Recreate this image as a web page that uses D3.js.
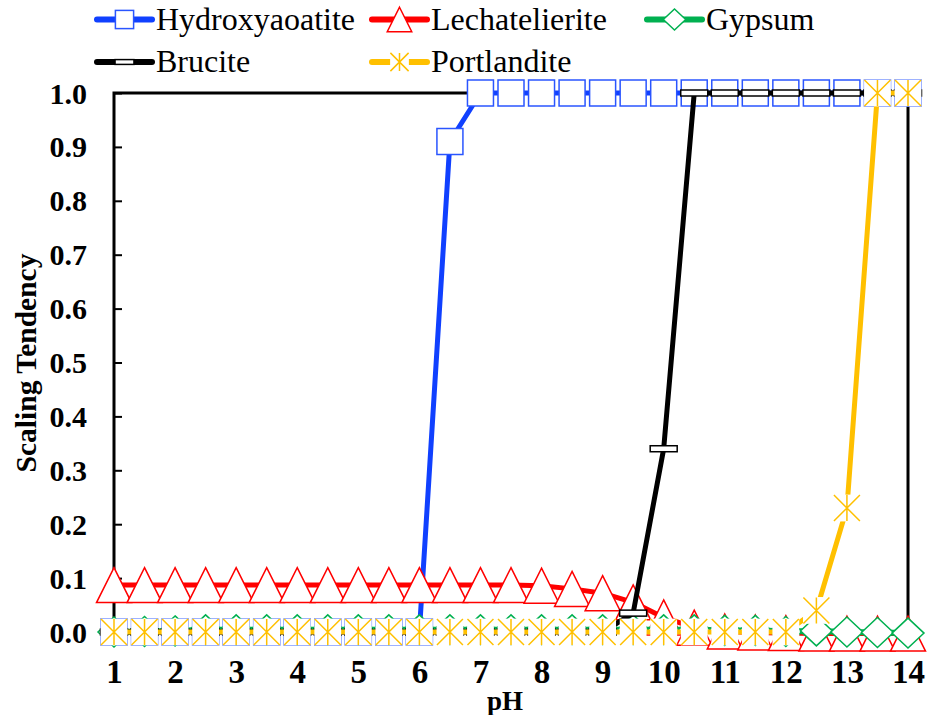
<!DOCTYPE html>
<html>
<head>
<meta charset="utf-8">
<script src="https://cdn.jsdelivr.net/npm/d3@7"></script>
<style>
  html, body { margin: 0; padding: 0; background: #fff; }
  svg { display: block; }
</style>
</head>
<body>
<svg id="chart" width="928" height="715"></svg>
<script>
// pH grid shared by every series
const pH = [1, 1.5, 2, 2.5, 3, 3.5, 4, 4.5, 5, 5.5, 6, 6.5, 7, 7.5, 8, 8.5, 9, 9.5, 10, 10.5, 11, 11.5, 12, 12.5, 13, 13.5, 14];

// scaling tendency per mineral
const hydroxyaoatite = [0, 0, 0, 0, 0, 0, 0, 0, 0, 0, 0, 0.91, 1, 1, 1, 1, 1, 1, 1, 1, 1, 1, 1, 1, 1, 1, 1];
const lechatelierite = [0.087, 0.087, 0.087, 0.087, 0.087, 0.087, 0.087, 0.087, 0.087, 0.087, 0.087, 0.087, 0.087, 0.087, 0.086, 0.08, 0.072, 0.055, 0.027, 0.008, 0.001, -0.001, -0.002, -0.003, -0.003, -0.003, -0.003];
const gypsum = [0, 0.001, 0.002, 0.004, 0.004, 0.004, 0.004, 0.004, 0.004, 0.004, 0.004, 0.004, 0.004, 0.004, 0.004, 0.004, 0.004, 0.004, 0.004, 0.004, 0.003, 0.003, 0.001, 0.002, 0, -0.001, -0.002];
const brucite = [0, 0, 0, 0, 0, 0, 0, 0, 0, 0, 0, 0, 0, 0, 0, 0, 0, 0.035, 0.34, 1, 1, 1, 1, 1, 1, 1, 1];
const portlandite = [0, 0, 0, 0, 0, 0, 0, 0, 0, 0, 0, 0, 0, 0, 0, 0, 0, 0, 0, 0, 0, 0, 0, 0.04, 0.23, 1, 1];

// axis ticks
const xTicks = [1, 2, 3, 4, 5, 6, 7, 8, 9, 10, 11, 12, 13, 14];
const yTicks = [0, 0.1, 0.2, 0.3, 0.4, 0.5, 0.6, 0.7, 0.8, 0.9, 1.0];
const yTickLabels = ["0.0", "0.1", "0.2", "0.3", "0.4", "0.5", "0.6", "0.7", "0.8", "0.9", "1.0"];

const seriesNames = ["Hydroxyaoatite", "Lechatelierite", "Gypsum", "Brucite", "Portlandite"];
const seriesValues = [hydroxyaoatite, lechatelierite, gypsum, brucite, portlandite];
const seriesColors = ["#1040ff", "#ff0000", "#00b050", "#000000", "#ffc000"];
const seriesMarkers = ["square", "triangle", "diamond", "bar", "star"];

const FONT = '"Liberation Serif"';

const svg = d3.select("#chart");

const x = d3.scaleLinear().domain([1, 14]).range([114, 908]);
const y = d3.scaleLinear().domain([0, 1]).range([632, 93]);

// plot frame
svg.append("rect")
  .attr("x", x(1)).attr("y", y(1))
  .attr("width", x(14) - x(1)).attr("height", y(0) - y(1))
  .attr("fill", "none").attr("stroke", "#000").attr("stroke-width", 3);

// y axis: inward ticks, bold labels
const yAxis = d3.axisLeft(y)
  .tickValues(yTicks)
  .tickFormat((d, i) => yTickLabels[i])
  .tickSizeInner(-8).tickSizeOuter(0).tickPadding(27);
const gy = svg.append("g").attr("transform", `translate(${x(1)},0)`).call(yAxis);
gy.select(".domain").remove();
gy.selectAll(".tick line").attr("stroke", "#000").attr("stroke-width", 2);
gy.selectAll(".tick text")
  .attr("font-family", FONT)
  .attr("font-size", 30).attr("font-weight", "bold").attr("fill", "#000")
  .attr("dy", null).attr("y", 10);

// x axis: labels only
const xAxis = d3.axisBottom(x).tickValues(xTicks).tickFormat(d3.format("d")).tickSize(0);
const gx = svg.append("g").attr("transform", `translate(0,${y(0)})`).call(xAxis);
gx.select(".domain").remove();
gx.selectAll(".tick line").remove();
gx.selectAll(".tick text")
  .attr("font-family", FONT)
  .attr("font-size", 33).attr("font-weight", "bold").attr("fill", "#000")
  .attr("dy", null).attr("y", 51);

// axis titles
svg.append("text")
  .attr("transform", "translate(36,363) rotate(-90)")
  .attr("text-anchor", "middle")
  .attr("font-family", FONT)
  .attr("font-size", 29.5).attr("font-weight", "bold")
  .text("Scaling Tendency");

svg.append("text")
  .attr("x", 505).attr("y", 710)
  .attr("text-anchor", "middle")
  .attr("font-family", FONT)
  .attr("font-size", 27).attr("font-weight", "bold")
  .text("pH");

// marker drawing, s = scale factor
function drawMarker(g, type, color, s) {
  if (type === "square") {
    g.append("rect").attr("x", -13 * s).attr("y", -13 * s).attr("width", 26 * s).attr("height", 26 * s)
      .attr("fill", "#fff").attr("stroke", "#2a55ff").attr("stroke-width", 1.5);
  } else if (type === "triangle") {
    const h = 17.5 * s;
    g.append("path").attr("d", `M0,${-h}L${h},${h}L${-h},${h}Z`)
      .attr("fill", "#fff").attr("stroke", color).attr("stroke-width", 1.5);
  } else if (type === "diamond") {
    const w = 16 * s, h = 15 * s;
    g.append("path").attr("d", `M0,${-h}L${w},0L0,${h}L${-w},0Z`)
      .attr("fill", "#fff").attr("stroke", color).attr("stroke-width", 1.5);
  } else if (type === "bar") {
    g.append("rect").attr("x", -13.5 * s).attr("y", -3 * Math.max(s, 0.8)).attr("width", 27 * s).attr("height", 6 * Math.max(s, 0.8))
      .attr("fill", "#fff").attr("stroke", color).attr("stroke-width", 1.5);
  } else if (type === "star") {
    const r = 13 * s, rb = 13.4 * s;
    g.append("rect").attr("x", -rb).attr("y", -rb).attr("width", 2 * rb).attr("height", 2 * rb).attr("fill", "#fff");
    g.append("path").attr("d", `M${-r},${-r}L${r},${r}M${-r},${r}L${r},${-r}M0,${-r}L0,${r}`)
      .attr("fill", "none").attr("stroke", color).attr("stroke-width", 1.5);
  }
}

const line = d3.line().x(d => x(d[0])).y(d => y(d[1]));

// each series: line first, then its markers
seriesValues.forEach((vals, si) => {
  const pts = pH.map((p, i) => [p, vals[i]]);
  const g = svg.append("g").attr("class", "series");
  g.append("path").attr("d", line(pts))
    .attr("fill", "none").attr("stroke", seriesColors[si])
    .attr("stroke-width", si === 2 ? 6 : 5).attr("stroke-linejoin", "round");
  pts.forEach(d => {
    const m = g.append("g").attr("transform", `translate(${x(d[0])},${y(d[1])})`);
    drawMarker(m, seriesMarkers[si], seriesColors[si], 1);
  });
});

// legend: three columns, two rows
const legendCols = [97, 372, 647];
const legendRows = [19.5, 62];
seriesNames.forEach((name, i) => {
  const lx = legendCols[i % 3], ly = legendRows[Math.floor(i / 3)];
  const g = svg.append("g").attr("transform", `translate(${lx},${ly})`);
  g.append("line").attr("x1", 0).attr("x2", 55).attr("y1", 0).attr("y2", 0)
    .attr("stroke", seriesColors[i]).attr("stroke-width", 6).attr("stroke-linecap", "round");
  const m = g.append("g").attr("transform", "translate(27.5,0)");
  drawMarker(m, seriesMarkers[i], seriesColors[i], 0.7);
  g.append("text").attr("x", 59).attr("y", 10)
    .attr("font-family", FONT)
    .attr("font-size", 32).attr("fill", "#000").text(name);
});
</script>
</body>
</html>
